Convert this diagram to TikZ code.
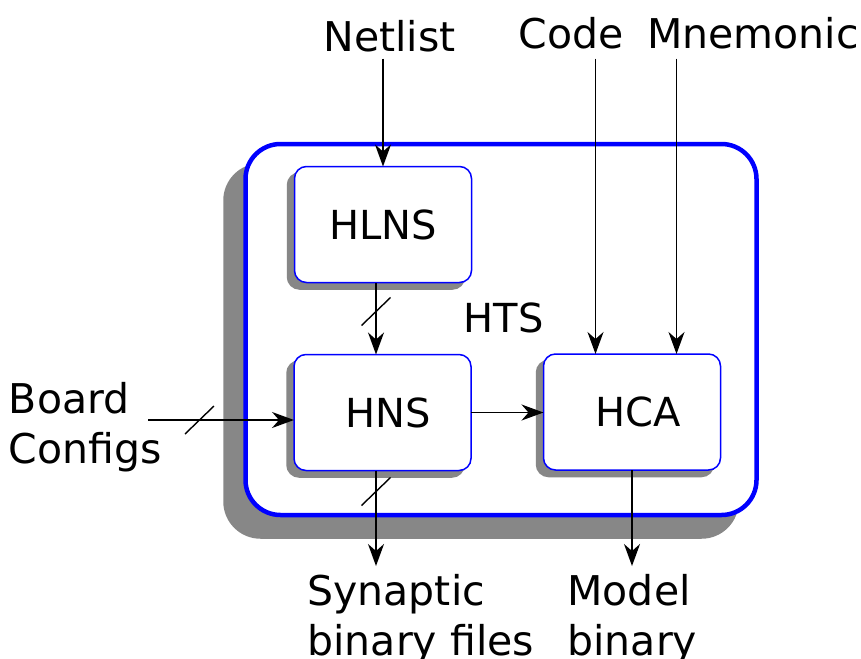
\documentclass[tikz,border=0pt]{standalone}
\usepackage{fontspec}
\setmainfont{DejaVu Sans}
\usetikzlibrary{arrows.meta,calc}
\definecolor{shadowgray}{RGB}{135,135,135}
\definecolor{boxblue}{RGB}{0,0,255}
\begin{document}
\begin{tikzpicture}[x=1pt,y=-1pt,
  every node/.style={font=\fontsize{41}{50}\selectfont, inner sep=0pt, outer sep=0pt},
  inner/.style={font=\fontsize{40}{48}\selectfont},
  block/.style={draw=boxblue, line width=1.5pt, fill=white, rounded corners=12pt,
    minimum width=177pt, minimum height=116pt,
    preaction={fill=shadowgray, draw=shadowgray, line width=1.5pt,
      transform canvas={xshift=-7pt, yshift=-6.5pt}}},
  system/.style={draw=boxblue, line width=4.5pt, fill=white, rounded corners=35pt,
    minimum width=511pt, minimum height=371pt,
    preaction={fill=shadowgray, draw=shadowgray, line width=4.5pt,
      transform canvas={xshift=-20pt, yshift=-21.5pt}}},
  flow/.style={-{Stealth[length=22pt, width=16pt, inset=7pt]}, line width=1.4pt},
  bus/.style={line width=1.4pt},
  multi/.style={align=left, anchor=north west}
]
\useasboundingbox (0,0) rectangle (861,658);

% enclosing system
\node[system] (hts) at (501,329.5) {};
\node[inner] (htslabel) at (503.5,318) {HTS};

% inner blocks
\node[block, inner] (hlns) at (383,224.5) {HLNS};
\node[block] (hns) at (382.5,412.5) {};
\node[inner] (hnstext) at ($(hns.center)+(6,0)$) {HNS};
\node[block] (hca) at (632,412) {};
\node[inner] (hcatext) at ($(hca.center)+(6.5,0)$) {HCA};

% inputs and outputs
\node[anchor=base] (netlist) at (389.5,51.5) {Netlist};
\node[anchor=base] (code) at (571,49) {Code};
\node[anchor=base] (mnemonic) at (753,49) {Mnemonic};
\node[multi] (board) at (9,382) {Board\\Configs};
\node[multi] (synaptic) at (307.5,574) {Synaptic\\binary files};
\node[multi] (model) at (567.5,574) {Model\\binary};

% connector end points
\coordinate (hlnsOut) at ($(hlns.south)+(-7,0)$);
\coordinate (hnsIn) at (hns.north -| hlnsOut);
\coordinate (hnsOut) at (hns.south -| hlnsOut);
\coordinate (hcaInA) at ($(hca.north west)+(52,0)$);
\coordinate (hcaInB) at ($(hca.north west)+(133,0)$);
\coordinate (boardOut) at (148,420);

% connectors
\draw[flow] ($(hlns.north |- netlist.south)+(0,6.5)$) -- (hlns.north);
\draw[flow] ($(hcaInA |- code.south)+(0,9)$) -- (hcaInA);
\draw[flow] ($(hcaInB |- mnemonic.south)+(0,9)$) -- (hcaInB);
\draw[flow] (hlnsOut) -- (hnsIn);
\draw[flow] (boardOut) -- (hns.west |- boardOut);
\draw[flow] (hns.east) -- (hca.west |- hns.east);
\draw[flow] (hnsOut) -- ($(hnsOut |- synaptic.north)+(0,-8)$);
\draw[flow] (hca.south) -- ($(hca.south |- model.north)+(0,-8)$);

% bus width marks
\coordinate (cutA) at ($(hlnsOut)+(0,29)$);
\coordinate (cutB) at ($(hnsOut)+(0,21)$);
\coordinate (cutC) at (199.5,420);
\foreach \c in {cutA,cutB,cutC}
  \draw[bus] ($(\c)+(-14.5,14)$) -- ($(\c)+(14.5,-14)$);
\end{tikzpicture}
\end{document}
